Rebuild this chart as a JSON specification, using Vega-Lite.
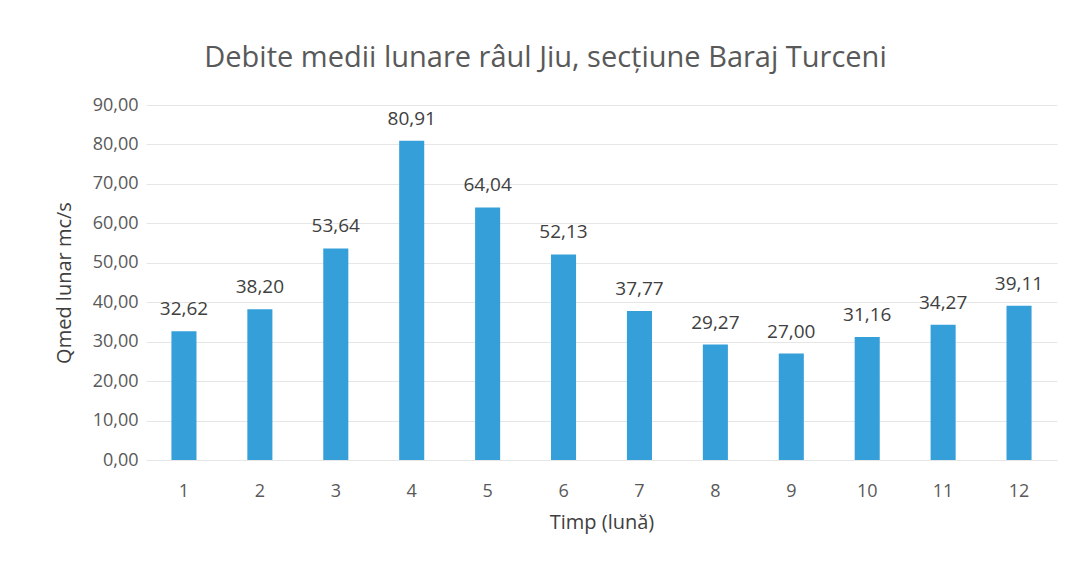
{
  "$schema": "https://vega.github.io/schema/vega-lite/v6.json",
  "autosize": "none",
  "width": 911,
  "height": 355,
  "padding": {"left": 146, "top": 105, "right": 15, "bottom": 108},
  "background": "#ffffff",
  "config": {
    "locale": {"number": {"decimal": ",", "thousands": ".", "grouping": [3], "currency": ["", " lei"]}},
    "view": {"stroke": null},
    "font": "Open Sans"
  },
  "title": {
    "text": "Debite medii lunare râul Jiu, secțiune Baraj Turceni",
    "fontSize": 29,
    "fontWeight": "normal",
    "color": "#595959",
    "anchor": "middle",
    "dx": -56,
    "offset": 23
  },
  "data": {
    "values": [
      {"luna": "1", "q": 32.62},
      {"luna": "2", "q": 38.20},
      {"luna": "3", "q": 53.64},
      {"luna": "4", "q": 80.91},
      {"luna": "5", "q": 64.04},
      {"luna": "6", "q": 52.13},
      {"luna": "7", "q": 37.77},
      {"luna": "8", "q": 29.27},
      {"luna": "9", "q": 27.00},
      {"luna": "10", "q": 31.16},
      {"luna": "11", "q": 34.27},
      {"luna": "12", "q": 39.11}
    ]
  },
  "encoding": {
    "x": {
      "field": "luna", "type": "ordinal", "sort": null,
      "scale": {"paddingInner": 0.67, "paddingOuter": 0.335},
      "axis": {
        "title": "Timp (lună)", "labelAngle": 0, "labelFontSize": 18, "labelColor": "#595959",
        "labelPadding": 22, "ticks": false, "domain": false,
        "titleFontSize": 20, "titleFontWeight": "normal", "titleColor": "#404040", "titlePadding": 12
      }
    },
    "y": {
      "field": "q", "type": "quantitative",
      "scale": {"domain": [0, 90]},
      "axis": {
        "title": "Qmed lunar mc/s", "values": [0, 10, 20, 30, 40, 50, 60, 70, 80, 90],
        "format": ".2f", "labelFontSize": 18, "labelColor": "#595959", "labelPadding": 8,
        "ticks": false, "domain": false, "gridColor": "#e6e6e6", "gridWidth": 1,
        "titleFontSize": 20, "titleFontWeight": "normal", "titleColor": "#404040", "titlePadding": 18
      }
    }
  },
  "layer": [
    {"mark": {"type": "bar", "color": "#349fd8"}},
    {
      "mark": {"type": "text", "dy": -22, "fontSize": 19, "color": "#404040"},
      "encoding": {"text": {"field": "q", "type": "quantitative", "format": ".2f"}}
    }
  ]
}
